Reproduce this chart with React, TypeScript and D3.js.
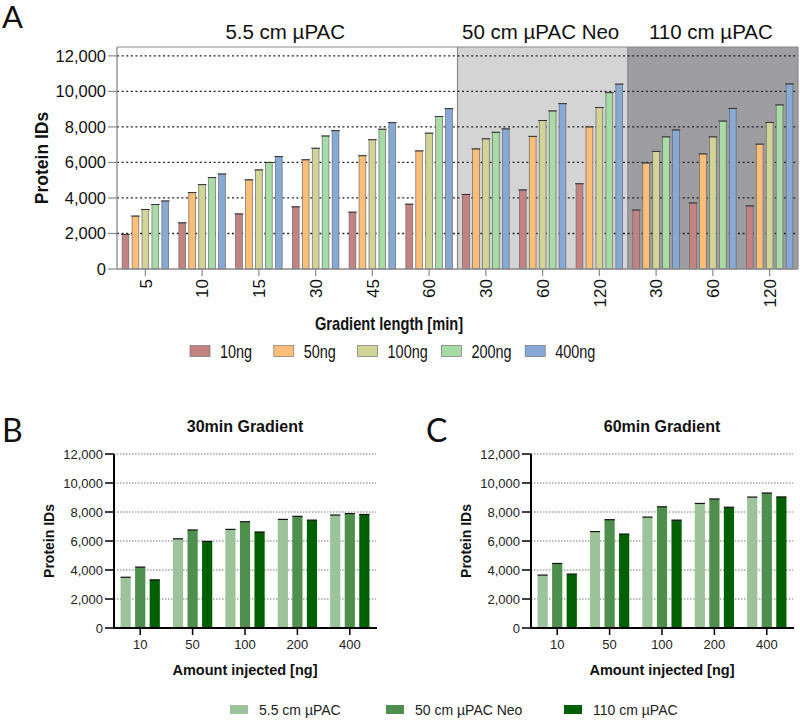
import React from "react";
import * as d3 from "d3";

const groups = ["5", "10", "15", "30", "45", "60", "30", "60", "120", "30", "60", "120"];
const columns = ["5.5 cm µPAC", "50 cm µPAC Neo", "110 cm µPAC"];
const columnSpans = [6, 3, 3];
const amounts = ["10ng", "50ng", "100ng", "200ng", "400ng"];
const amountTicks = ["10", "50", "100", "200", "400"];

const v10 = [1950, 2600, 3100, 3500, 3200, 3650, 4200, 4450, 4800, 3320, 3720, 3550];
const v50 = [2980, 4300, 5020, 6150, 6380, 6650, 6760, 7470, 8000, 5970, 6480, 7030];
const v100 = [3350, 4750, 5580, 6800, 7280, 7650, 7330, 8360, 9090, 6620, 7440, 8250];
const v200 = [3630, 5150, 6000, 7490, 7870, 8590, 7700, 8900, 9930, 7440, 8330, 9240];
const v400 = [3830, 5350, 6330, 7790, 8240, 9030, 7890, 9310, 10410, 7830, 9040, 10420];
const seriesTop = [v10, v50, v100, v200, v400];
const topColors = ["#c48383", "#fdbe78", "#d2d396", "#a8dca6", "#87a9d6"];
const bgColors = ["#ffffff", "#d4d4d4", "#9e9da2"];

const yTicks = [0, 2000, 4000, 6000, 8000, 10000, 12000];
const greenColors = ["#9dc39a", "#4e8f4e", "#005f00"];
// group indices of 30 min and 60 min gradients for each column
const idx30 = [3, 6, 9];
const idx60 = [5, 7, 10];

const fmt = d3.format(",");
const SANS = "'Liberation Sans', Arial, Helvetica, sans-serif";
const LETTER = "Lato, 'Open Sans', sans-serif";
const NARROW_SCALE = 0.815;

function TopChart() {
  const L = 117, R = 798, T = 47, B = 269;
  const y = d3.scaleLinear().domain([0, 12500]).range([B, T]);
  const x = d3.scaleBand<number>().domain(d3.range(groups.length)).range([L, R]).paddingInner(0.18).paddingOuter(0.09);
  const xs = d3.scaleBand<number>().domain(d3.range(amounts.length)).range([0, x.bandwidth()]).paddingInner(0.32);
  const step = x.step();
  const starts = [0, 6, 9];
  const marker = d3.symbol().type(d3.symbolTimes).size(22)();
  return (
    <g>
      {columns.map((c, i) => {
        const x0 = L + starts[i] * step;
        const x1 = L + (starts[i] + columnSpans[i]) * step;
        return (
          <g key={c}>
            <rect x={x0} y={T} width={x1 - x0} height={B - T} fill={bgColors[i]} />
            <text x={(x0 + x1) / 2 - 2} y={39} textAnchor="middle" fontSize={20.5} fontFamily={SANS} fill="#111">{c}</text>
            {i > 0 && <line x1={x0} x2={x0} y1={T} y2={B} stroke="#8a8a8a" strokeWidth={1.2} />}
          </g>
        );
      })}
      {yTicks.filter((t) => t > 0).map((t) => (
        <line key={t} x1={L} x2={R} y1={y(t)} y2={y(t)} stroke="#222" strokeWidth={1.3} strokeDasharray="2,2.6" />
      ))}
      <line x1={L} x2={R} y1={T} y2={T} stroke="#8a8a8a" strokeWidth={1.2} />
      <line x1={R} x2={R} y1={T} y2={B} stroke="#8a8a8a" strokeWidth={1.2} />
      {seriesTop.map((vals, s) =>
        vals.map((v, g) => {
          const bx = (x(g) as number) + (xs(s) as number);
          const bw = xs.bandwidth();
          return (
            <g key={s + "-" + g}>
              <rect x={bx} y={y(v)} width={bw} height={B - y(v)} fill={topColors[s]} stroke="#6b6b6b" strokeWidth={0.7} />
              <line x1={bx - 1} x2={bx + bw + 1} y1={y(v)} y2={y(v)} stroke="#333" strokeWidth={1} />
              <path d={marker as string} transform={`translate(${bx + bw / 2},${y(v)})`} fill="#222" />
            </g>
          );
        })
      )}
      <line x1={L} x2={L} y1={T} y2={B} stroke="#8a8a8a" strokeWidth={1.3} />
      <line x1={L} x2={R} y1={B} y2={B} stroke="#8a8a8a" strokeWidth={1.3} />
      {yTicks.map((t) => (
        <g key={t}>
          <line x1={L - 9} x2={L} y1={y(t)} y2={y(t)} stroke="#8a8a8a" strokeWidth={1.2} />
          <text x={L - 11} y={y(t)} dy="0.36em" textAnchor="end" fontSize={16.5} fontFamily={SANS} fill="#111">{fmt(t)}</text>
        </g>
      ))}
      {groups.map((gname, g) => {
        const cx = (x(g) as number) + x.bandwidth() / 2;
        return (
          <g key={g}>
            <line x1={cx} x2={cx} y1={B} y2={B + 7} stroke="#8a8a8a" strokeWidth={1.2} />
            <text transform={`translate(${cx},${B + 10}) rotate(-90)`} dy="0.36em" textAnchor="end" fontSize={17} fontFamily={SANS} fill="#111">{gname}</text>
          </g>
        );
      })}
      <text transform={`translate(48,${(T + B) / 2}) rotate(-90)`} textAnchor="middle" fontSize={17.5} fontWeight="bold" fontFamily={SANS} fill="#111">Protein IDs</text>
      <text transform={`translate(389,330) scale(${NARROW_SCALE},1)`} textAnchor="middle" fontSize={18} fontWeight="bold" fontFamily={SANS} fill="#111">Gradient length [min]</text>
      {amounts.map((a, i) => (
        <g key={a} transform={`translate(${190 + i * 83.8},0)`}>
          <rect x={0} y={345.5} width={20} height={11} fill={topColors[i]} stroke="#777" strokeWidth={0.7} />
          <text transform={`translate(30,358) scale(0.78,1)`} fontSize={18.5} fontFamily={SANS} fill="#111">{a}</text>
        </g>
      ))}
    </g>
  );
}

function SmallChart({ L, title, idx }: { L: number; title: string; idx: number[] }) {
  const R = L + 262, T = 454, B = 628;
  const y = d3.scaleLinear().domain([0, 12000]).range([B, T]);
  const x = d3.scaleBand<number>().domain(d3.range(amountTicks.length)).range([L, R]).paddingInner(0.25).paddingOuter(0.125);
  const xs = d3.scaleBand<number>().domain(d3.range(3)).range([0, x.bandwidth()]).paddingInner(0.3);
  const marker = d3.symbol().type(d3.symbolTimes).size(16)();
  return (
    <g>
      {yTicks.filter((t) => t > 0).map((t) => (
        <line key={t} x1={L} x2={R} y1={y(t)} y2={y(t)} stroke="#777" strokeWidth={1} strokeDasharray="1.5,1.5" />
      ))}
      {idx.map((gi, c) =>
        seriesTop.map((vals, a) => {
          const v = vals[gi];
          const bx = (x(a) as number) + (xs(c) as number);
          const bw = xs.bandwidth();
          return (
            <g key={c + "-" + a}>
              <rect x={bx} y={y(v)} width={bw} height={B - y(v)} fill={greenColors[c]} />
              <line x1={bx} x2={bx + bw} y1={y(v)} y2={y(v)} stroke="#111" strokeWidth={1.2} />
              <path d={marker as string} transform={`translate(${bx + bw / 2 - 2.5},${y(v) - 1})`} fill="#111" />
              <path d={marker as string} transform={`translate(${bx + bw / 2 + 2.5},${y(v) - 1})`} fill="#111" />
            </g>
          );
        })
      )}
      <line x1={L} x2={L} y1={T} y2={B + 1} stroke="#000" strokeWidth={2} />
      <line x1={L - 1} x2={R + 1} y1={B} y2={B} stroke="#000" strokeWidth={2} />
      {yTicks.map((t) => (
        <g key={t}>
          <line x1={L - 9} x2={L} y1={y(t)} y2={y(t)} stroke="#000" strokeWidth={1.5} />
          <text x={L - 11} y={y(t)} dy="0.36em" textAnchor="end" fontSize={13} fontFamily={SANS} fill="#222">{fmt(t)}</text>
        </g>
      ))}
      {amountTicks.map((a, i) => {
        const cx = (x(i) as number) + x.bandwidth() / 2;
        return (
          <g key={a}>
            <line x1={cx} x2={cx} y1={B} y2={B + 7} stroke="#000" strokeWidth={1.5} />
            <text x={cx} y={649} textAnchor="middle" fontSize={13} fontFamily={SANS} fill="#222">{a}</text>
          </g>
        );
      })}
      <text x={(L + R) / 2} y={432} textAnchor="middle" fontSize={16} fontWeight="bold" fontFamily={SANS} fill="#111">{title}</text>
      <text x={(L + R) / 2} y={675} textAnchor="middle" fontSize={14.5} fontWeight="bold" fontFamily={SANS} fill="#111">Amount injected [ng]</text>
      <text transform={`translate(${L - 60},${(T + B) / 2}) rotate(-90)`} textAnchor="middle" fontSize={14} fontWeight="bold" fontFamily={SANS} fill="#111">Protein IDs</text>
    </g>
  );
}

export default function App() {
  const legendX = [230, 386, 564];
  return (
    <svg width={800} height={720} style={{ position: "absolute", left: 0, top: 0, background: "#fff" }}>
      <rect width={800} height={720} fill="#fff" />
      <text x={2} y={28} fontSize={31} fontFamily={LETTER} fill="#111">A</text>
      <text x={2} y={442} fontSize={32} fontFamily={LETTER} fill="#111">B</text>
      <text x={426} y={442} fontSize={32} fontFamily={LETTER} fill="#111">C</text>
      <TopChart />
      <SmallChart L={114} title="30min Gradient" idx={idx30} />
      <SmallChart L={531} title="60min Gradient" idx={idx60} />
      {columns.map((c, i) => (
        <g key={c}>
          <rect x={legendX[i]} y={705} width={18} height={9} fill={greenColors[i]} />
          <text x={legendX[i] + 29} y={714.5} fontSize={14} fontFamily={SANS} fill="#222">{c}</text>
        </g>
      ))}
    </svg>
  );
}
